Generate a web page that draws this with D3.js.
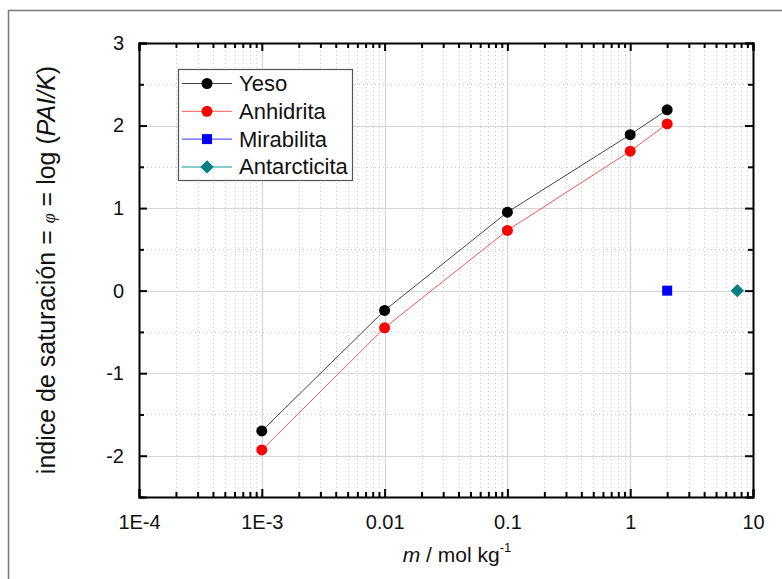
<!DOCTYPE html>
<html>
<head>
<meta charset="utf-8">
<script src="https://cdn.jsdelivr.net/npm/d3@7"></script>
<style>
  body { margin: 0; background: #fff; }
  svg text { font-family: Arial, "Liberation Sans", sans-serif; fill: #111; }
</style>
</head>
<body>
<svg id="chart" width="782" height="579"></svg>
<script>
// data
var molality = [0.001, 0.01, 0.1, 1, 2];
var yesoVals = [-1.70, -0.24, 0.95, 1.89, 2.19];
var anhidritaVals = [-1.93, -0.45, 0.73, 1.69, 2.02];
var mirabilitaX = [2];
var mirabilitaVals = [0];
var antarcticitaX = [7.45];
var antarcticitaVals = [0];
var xTickVals = [1e-4, 1e-3, 0.01, 0.1, 1, 10];
var xTickLabels = ["1E-4", "1E-3", "0.01", "0.1", "1", "10"];
var yTickVals = [-2, -1, 0, 1, 2, 3];
var yTickLabels = ["-2", "-1", "0", "1", "2", "3"];

var svg = d3.select("#chart");
// plot box (note: "top" is reserved on window, so use pTop etc.)
var pLeft = 139, pTop = 43, pRight = 753, pBottom = 497;

var x = d3.scaleLog().domain([1e-4, 10]).range([pLeft, pRight]);
var y = d3.scaleLinear().domain([-2.5, 3]).range([pBottom, pTop]);

// outer frame (runs off the page right/bottom)
svg.append("rect").attr("x", 8.5).attr("y", 10.5).attr("width", 800).attr("height", 600)
  .attr("fill", "none").attr("stroke", "#777").attr("stroke-width", 1.5);

// minor values
var xMinor = [];
for (var e = -4; e < 1; e++) {
  for (var k = 2; k <= 9; k++) xMinor.push(k * Math.pow(10, e));
}
var yMinor = [-2.5, -1.5, -0.5, 0.5, 1.5, 2.5];

var grid = svg.append("g");
// minor grid (dotted)
grid.selectAll(".xm").data(xMinor).join("line")
  .attr("x1", function(d) { return Math.round(x(d)) + 0.5; }).attr("x2", function(d) { return Math.round(x(d)) + 0.5; })
  .attr("y1", pTop).attr("y2", pBottom)
  .attr("stroke", "#ccc").attr("stroke-width", 1).attr("stroke-dasharray", "1,3");
grid.selectAll(".ym").data(yMinor).join("line")
  .attr("y1", function(d) { return Math.round(y(d)) + 0.5; }).attr("y2", function(d) { return Math.round(y(d)) + 0.5; })
  .attr("x1", pLeft).attr("x2", pRight)
  .attr("stroke", "#ccc").attr("stroke-width", 1).attr("stroke-dasharray", "1,3");
// major grid
grid.selectAll(".xM").data(xTickVals.slice(1, -1)).join("line")
  .attr("x1", function(d) { return Math.round(x(d)) + 0.5; }).attr("x2", function(d) { return Math.round(x(d)) + 0.5; })
  .attr("y1", pTop).attr("y2", pBottom)
  .attr("stroke", "#d4d4d4").attr("stroke-width", 1.2);
grid.selectAll(".yM").data(yTickVals.slice(0, -1)).join("line")
  .attr("y1", function(d) { return Math.round(y(d)) + 0.5; }).attr("y2", function(d) { return Math.round(y(d)) + 0.5; })
  .attr("x1", pLeft).attr("x2", pRight)
  .attr("stroke", "#d4d4d4").attr("stroke-width", 1.2);

// axes with inward ticks
var axB = svg.append("g").attr("transform", "translate(0," + pBottom + ")")
  .call(d3.axisBottom(x).tickValues(xTickVals).tickFormat(function(d, i) { return xTickLabels[i]; }).tickSize(-8).tickPadding(18));
var axT = svg.append("g").attr("transform", "translate(0," + pTop + ")")
  .call(d3.axisTop(x).tickValues(xTickVals).tickFormat("").tickSize(-8));
var axL = svg.append("g").attr("transform", "translate(" + pLeft + ",0)")
  .call(d3.axisLeft(y).tickValues(yTickVals).tickFormat(function(d, i) { return yTickLabels[i]; }).tickSize(-8).tickPadding(15));
var axR = svg.append("g").attr("transform", "translate(" + pRight + ",0)")
  .call(d3.axisRight(y).tickValues(yTickVals).tickFormat("").tickSize(-8));

// minor ticks
[[axB, d3.axisBottom(x)], [axT, d3.axisTop(x)]].forEach(function(p) {
  p[0].append("g").call(p[1].tickValues(xMinor).tickFormat("").tickSize(-5))
    .select(".domain").remove();
});
[[axL, d3.axisLeft(y)], [axR, d3.axisRight(y)]].forEach(function(p) {
  p[0].append("g").call(p[1].tickValues(yMinor).tickFormat("").tickSize(-5))
    .select(".domain").remove();
});

svg.selectAll(".domain").attr("stroke", "#000").attr("stroke-width", 2);
svg.selectAll(".tick line").attr("stroke", "#000").attr("stroke-width", 2);
svg.selectAll(".tick text").attr("font-size", 20).style("fill", "#111");

// series
var line = d3.line().x(function(d) { return x(d[0]); }).y(function(d) { return y(d[1]); });
var yeso = d3.zip(molality, yesoVals);
var anhidrita = d3.zip(molality, anhidritaVals);

svg.append("path").datum(yeso).attr("d", line).attr("fill", "none").attr("stroke", "#444").attr("stroke-width", 1);
svg.append("path").datum(anhidrita).attr("d", line).attr("fill", "none").attr("stroke", "#f55").attr("stroke-width", 1);

svg.selectAll(".yeso").data(yeso).join("circle")
  .attr("cx", function(d) { return x(d[0]); }).attr("cy", function(d) { return y(d[1]); })
  .attr("r", 5.5).attr("fill", "#000");
svg.selectAll(".anh").data(anhidrita).join("circle")
  .attr("cx", function(d) { return x(d[0]); }).attr("cy", function(d) { return y(d[1]); })
  .attr("r", 5.5).attr("fill", "#f00");
svg.selectAll(".mir").data(d3.zip(mirabilitaX, mirabilitaVals)).join("rect")
  .attr("x", function(d) { return x(d[0]) - 5; }).attr("y", function(d) { return y(d[1]) - 5; })
  .attr("width", 10).attr("height", 10).attr("fill", "#00f");
svg.selectAll(".ant").data(d3.zip(antarcticitaX, antarcticitaVals)).join("path")
  .attr("d", d3.symbol(d3.symbolSquare, 90))
  .attr("transform", function(d) { return "translate(" + x(d[0]) + "," + y(d[1]) + ") rotate(45)"; })
  .attr("fill", "#008080");

// legend
var legendItems = [
  { name: "Yeso", line: "#444", fill: "#000", shape: "circle" },
  { name: "Anhidrita", line: "#f55", fill: "#f00", shape: "circle" },
  { name: "Mirabilita", line: "#33f", fill: "#00f", shape: "square" },
  { name: "Antarcticita", line: "#8cc", fill: "#008080", shape: "diamond" }
];
var lg = svg.append("g");
lg.append("rect").attr("x", 178.5).attr("y", 69.5).attr("width", 174).attr("height", 111)
  .attr("fill", "#fff").attr("stroke", "#555").attr("stroke-width", 1.2);
legendItems.forEach(function(it, i) {
  var cy = 83.5 + i * 27.8;
  var g = lg.append("g");
  g.append("line").attr("x1", 182).attr("x2", 232).attr("y1", cy).attr("y2", cy)
    .attr("stroke", it.line).attr("stroke-width", it.shape === "diamond" ? 2 : 1);
  if (it.shape === "circle") {
    g.append("circle").attr("cx", 207).attr("cy", cy).attr("r", 5.5).attr("fill", it.fill);
  } else if (it.shape === "square") {
    g.append("rect").attr("x", 202).attr("y", cy - 5).attr("width", 10).attr("height", 10).attr("fill", it.fill);
  } else {
    g.append("path").attr("d", d3.symbol(d3.symbolSquare, 90))
      .attr("transform", "translate(207," + cy + ") rotate(45)").attr("fill", it.fill);
  }
  g.append("text").attr("x", 239).attr("y", cy + 7.5).attr("font-size", 22).text(it.name);
});

// axis titles
var xt = svg.append("text").attr("x", 457).attr("y", 562).attr("text-anchor", "middle").attr("font-size", 21);
xt.append("tspan").attr("font-style", "italic").text("m");
xt.append("tspan").text(" / mol kg");
xt.append("tspan").attr("font-size", 13).attr("dy", -10).text("-1");

var yt = svg.append("text").attr("transform", "translate(55,270) rotate(-90)")
  .attr("text-anchor", "middle").attr("font-size", 25);
yt.append("tspan").text("indice de saturación = ");
yt.append("tspan").attr("font-style", "italic").attr("font-family", "Times New Roman, Liberation Serif, serif").attr("font-size", 18).text("φ");
yt.append("tspan").text(" = log (");
yt.append("tspan").attr("font-style", "italic").text("PAI/K");
yt.append("tspan").text(")");
</script>
</body>
</html>
